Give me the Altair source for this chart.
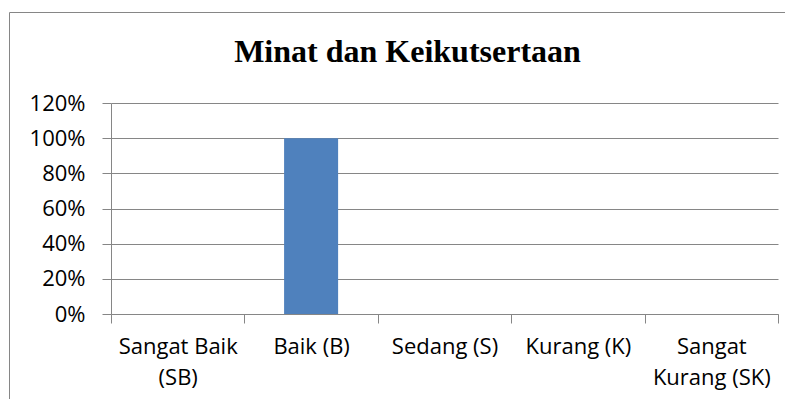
import altair as alt
import pandas as pd

categories = ["Sangat Baik (SB)", "Baik (B)", "Sedang (S)", "Kurang (K)", "Sangat Kurang (SK)"]
values = [0.0, 1.0, 0.0, 0.0, 0.0]
y_ticks = [0, 0.2, 0.4, 0.6, 0.8, 1.0, 1.2]
title_text = ["Minat dan Keikutsertaan"]

df = pd.DataFrame({"kategori": categories, "nilai": values})

GRAY = "#868686"
LABEL_FONT = "Open Sans"

label_expr = (
    "datum.value == 'Sangat Baik (SB)' ? ['Sangat Baik', '(SB)'] : "
    "datum.value == 'Sangat Kurang (SK)' ? ['Sangat', 'Kurang (SK)'] : datum.value"
)

frame = alt.Chart(pd.DataFrame({"f": [0]})).mark_rect(
    filled=False, stroke=GRAY, strokeWidth=1
).encode(
    x=alt.value(-101.5), x2=alt.value(900),
    y=alt.value(-90.5), y2=alt.value(500),
)

title = alt.Chart(pd.DataFrame({"t": title_text})).mark_text(
    font="Liberation Serif", fontSize=32, fontWeight="bold", color="black",
    align="center", baseline="alphabetic",
).encode(text="t:N", x=alt.value(296.5), y=alt.value(-40.7))

bars = alt.Chart(df).mark_bar(color="#4F81BD", width=alt.RelativeBandSize(0.405)).encode(
    x=alt.X(
        "kategori:N", sort=categories, title=None,
        scale=alt.Scale(paddingInner=0, paddingOuter=0),
        axis=alt.Axis(
            labelAngle=0, labelExpr=label_expr, labelFont=LABEL_FONT, labelFontSize=22,
            labelColor="black", labelLineHeight=31, labelPadding=13, labelBaseline="top",
            tickBand="extent", tickSize=9, tickColor=GRAY, domainColor=GRAY,
            domainWidth=1, tickWidth=1, grid=False, labelLimit=300,
        ),
    ),
    y=alt.Y(
        "nilai:Q", title=None,
        scale=alt.Scale(domain=[0, 1.2], nice=False),
        axis=alt.Axis(
            values=y_ticks, format=".0%", labelFont=LABEL_FONT, labelFontSize=22,
            labelColor="black", labelPadding=17, tickSize=9, tickColor=GRAY,
            domainColor=GRAY, gridColor=GRAY, gridWidth=1, gridOpacity=1,
            domainWidth=1, tickWidth=1,
        ),
    ),
)

chart = alt.layer(frame, bars, title).properties(
    width=667, height=211,
    autosize=alt.AutoSizeParams(type="none"),
    padding={"left": 103, "top": 95, "right": 7, "bottom": 85},
).configure_view(stroke=None)

chart.save("out.html", embed_options={"renderer": "svg", "actions": False})
